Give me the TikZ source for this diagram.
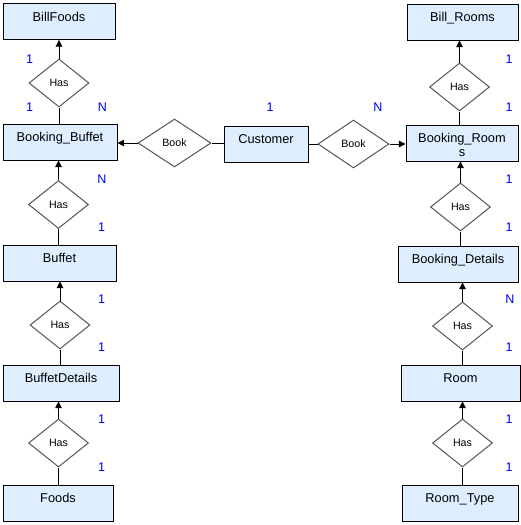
\documentclass[tikz,border=0pt]{standalone}
\usepackage{fontspec}
\setmainfont{Liberation Sans}
\usetikzlibrary{shapes.geometric,arrows.meta}
\definecolor{boxblue}{RGB}{222,238,255}
\definecolor{dgray}{RGB}{85,85,85}
\definecolor{cardblue}{RGB}{0,0,255}
\begin{document}
\begin{tikzpicture}[x=0.75pt,y=-0.75pt,
  entity/.style={draw=black, fill=boxblue, line width=0.75pt, minimum height=27pt, inner sep=0pt,
     label={[anchor=north, inner sep=0pt, yshift=-6.5pt, font=\fontsize{9.6}{10.5}\selectfont, align=center]north:#1}},
  rel/.style={diamond, draw=dgray, fill=white, line width=0.75pt, inner sep=0pt,
     minimum width=45pt, minimum height=36pt, font=\fontsize{8}{9}\selectfont},
  card/.style={text=cardblue, inner sep=0pt, font=\fontsize{9.4}{10}\selectfont},
  ln/.style={draw=black, line width=0.75pt},
  arr/.style={ln, -{Triangle[length=5pt,width=5pt]}}]
\useasboundingbox (0,0) rectangle (521,525);
% entities
\node[entity={BillFoods}, minimum width=84pt] (billfoods) at (59,21.5) {};
\node[entity={Booking\_Buffet}, minimum width=85.5pt] (bookbuf) at (60,142) {};
\node[entity={Buffet}, minimum width=84.75pt] (buffet) at (59.5,263) {};
\node[entity={BuffetDetails}, minimum width=87pt] (buffetdet) at (61,383) {};
\node[entity={Foods}, minimum width=82.5pt] (foods) at (58,503) {};
\node[entity={Customer}, minimum width=63pt] (customer) at (266,144) {};
\node[entity={Bill\_Rooms}, minimum width=83.25pt] (billrooms) at (462.5,22) {};
\node[entity={Booking\_Room\\s}, minimum width=84pt] (bookrooms) at (462,143) {};
\node[entity={Booking\_Details}, minimum width=90pt] (bookdet) at (458,264) {};
\node[entity={Room}, minimum width=89.25pt] (room) at (460.5,383) {};
\node[entity={Room\_Type}, minimum width=87pt] (roomtype) at (460,503) {};
% relationships
\node[rel] (hasL1) at (59,83) {Has};
\node[rel] (hasL2) at (58.5,204.5) {Has};
\node[rel] (hasL3) at (60,325) {Has};
\node[rel] (hasL4) at (58.5,443) {Has};
\node[rel, minimum width=54.75pt] (bookL) at (174.5,143) {Book};
\node[rel, minimum width=53.25pt] (bookR) at (353.5,144) {Book};
\node[rel] (hasR1) at (459.5,87) {Has};
\node[rel] (hasR2) at (460.5,207) {Has};
\node[rel] (hasR3) at (462.5,326) {Has};
\node[rel] (hasR4) at (462.5,443) {Has};
% connectors left column
\draw[arr] (hasL1.north) -- (hasL1.north |- billfoods.south);
\draw[ln] (hasL1.south) -- (hasL1.south |- bookbuf.north);
\draw[arr] (hasL2.north) -- (hasL2.north |- bookbuf.south);
\draw[ln] (hasL2.south) -- (hasL2.south |- buffet.north);
\draw[arr] (hasL3.north) -- (hasL3.north |- buffet.south);
\draw[ln] (hasL3.south) -- (hasL3.south |- buffetdet.north);
\draw[arr] (hasL4.north) -- (hasL4.north |- buffetdet.south);
\draw[ln] (hasL4.south) -- (hasL4.south |- foods.north);
% middle
\draw[arr] (bookL.west) -- (bookL.west -| bookbuf.east);
\draw[ln] (customer.west |- bookL.east) -- (bookL.east);
\draw[ln] (customer.east) -- (bookR.west);
\draw[arr] (bookR.east) -- (bookR.east -| bookrooms.west);
% right column
\draw[arr] (hasR1.north) -- (hasR1.north |- billrooms.south);
\draw[ln] (hasR1.south) -- (hasR1.south |- bookrooms.north);
\draw[arr] (hasR2.north) -- (hasR2.north |- bookrooms.south);
\draw[ln] (hasR2.south) -- (hasR2.south |- bookdet.north);
\draw[arr] (hasR3.north) -- (hasR3.north |- bookdet.south);
\draw[ln] (hasR3.south) -- (hasR3.south |- room.north);
\draw[arr] (hasR4.north) -- (hasR4.north |- room.south);
\draw[ln] (hasR4.south) -- (hasR4.south |- roomtype.north);
% cardinalities
\node[card] (c1) at (29.5,59.5) {1};
\node[card] (c2) at (29.5,107.5) {1};
\node[card] (c3) at (102.5,107.5) {N};
\node[card] (c4) at (102,179) {N};
\node[card] (c5) at (101.5,227) {1};
\node[card] (c6) at (101.5,299) {1};
\node[card] (c7) at (101.5,347) {1};
\node[card] (c8) at (101.5,419) {1};
\node[card] (c9) at (101.5,467) {1};
\node[card] (c10) at (270,107) {1};
\node[card] (c11) at (378,107) {N};
\node[card] (c12) at (509,59) {1};
\node[card] (c13) at (509,107) {1};
\node[card] (c14) at (509,179) {1};
\node[card] (c15) at (509,227) {1};
\node[card] (c16) at (510,299) {N};
\node[card] (c17) at (509,347) {1};
\node[card] (c18) at (509,419) {1};
\node[card] (c19) at (509,467) {1};
\end{tikzpicture}
\end{document}
